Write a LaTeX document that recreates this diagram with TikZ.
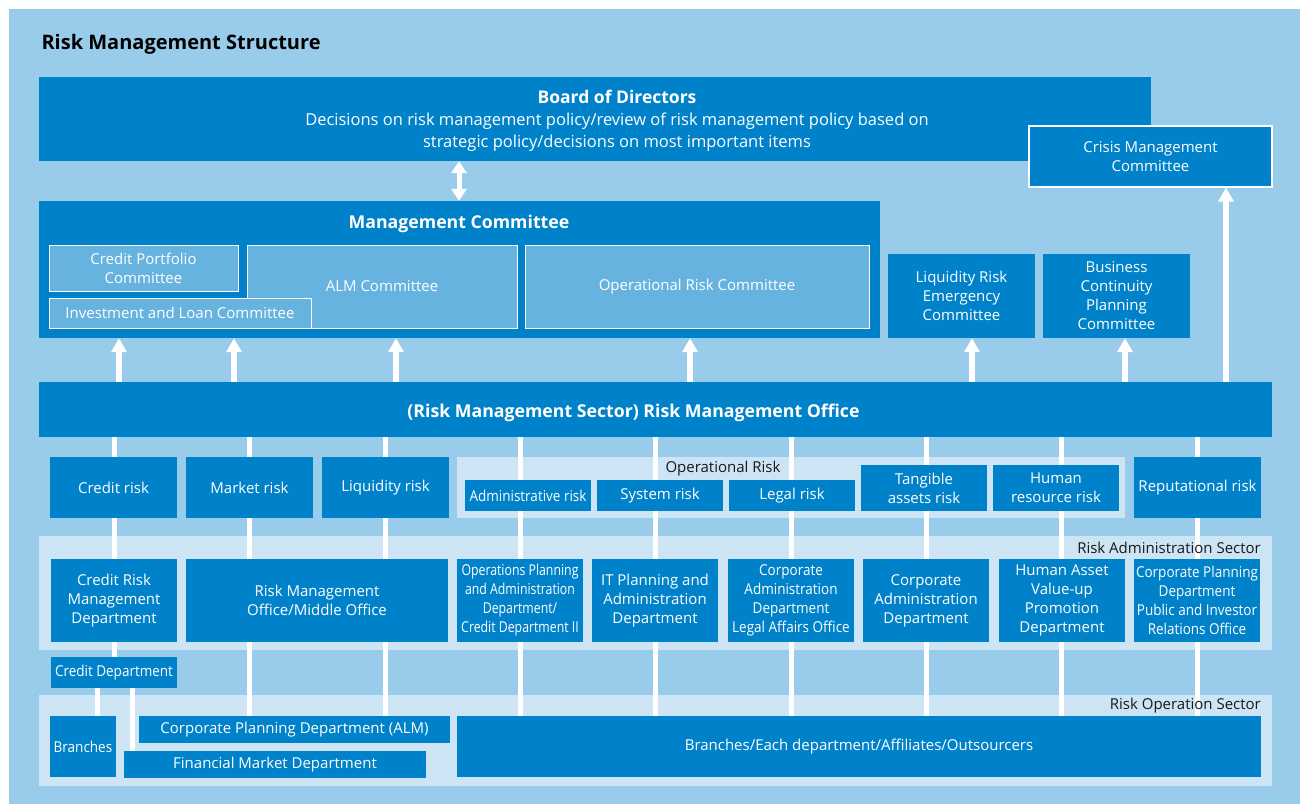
\documentclass[tikz,border=0pt]{standalone}
\usepackage{fontspec}
\setmainfont{Open Sans}
\newfontfamily\narrowfont{Open Sans}[FakeStretch=0.82]
\newfontfamily\semifont{Open Sans}[FakeStretch=0.9]
\usetikzlibrary{arrows.meta}

\definecolor{skyblue}{RGB}{153,204,235}
\definecolor{deepblue}{RGB}{0,130,202}
\definecolor{midblue}{RGB}{102,179,224}
\definecolor{paleblue}{RGB}{204,228,244}

\pgfdeclarelayer{back}
\pgfdeclarelayer{links}
\pgfsetlayers{back,links,main}

\newcommand{\boxtext}{\fontsize{15}{19}\selectfont}
\newcommand{\headtext}{\bfseries\fontsize{17.7}{22}\selectfont}

\tikzset{
  box/.style={fill=deepblue, text=white, inner sep=0pt, align=center, font=\boxtext},
  combox/.style={box, fill=midblue, draw=white, line width=1pt},
  riskbox/.style={box, minimum width=127pt, minimum height=61pt},
  deptbox/.style={box, minimum width=126pt, minimum height=83pt},
  band/.style={fill=paleblue, inner sep=0pt},
  tag/.style={text=black!90, inner sep=0pt, font=\boxtext},
  uparrow/.style={draw=white, line width=6pt, -{Triangle[width=15pt,length=14pt]}},
  link/.style={draw=white, line width=5pt},
}

\begin{document}
\begin{tikzpicture}[x=1pt, y=-1pt]
\useasboundingbox (0,0) rectangle (1300,804);

\node[anchor=west, font=\bfseries\fontsize{20}{24}\selectfont] (title) at (38,44) {Risk Management Structure};

% board and crisis committee
\node[box, minimum width=1112pt, minimum height=84pt,
  label={[xshift=22pt, yshift=-2pt, text=white, align=center, font=\fontsize{16.5}{22}\selectfont]center:{{\bfseries\fontsize{17.5}{22}\selectfont Board of Directors}\\Decisions on risk management policy/review of risk management policy based on\\strategic policy/decisions on most important items}}] (board) at (595,119) {};
\node[box, draw=white, line width=1.2pt, minimum width=243pt, minimum height=61pt] (crisis) at (1150.5,156.5) {Crisis Management\\Committee};

% management committee
\node[box, minimum width=841pt, minimum height=137pt] (mgmt) at (459.5,269.5) {};
\node[text=white, font=\headtext] (mgmttitle) at (459,224) {Management Committee};
\node[combox, minimum width=189pt, minimum height=46pt] (cpc) at (143.5,268) {Credit Portfolio\\Committee};
\node[combox, minimum width=270pt, minimum height=83pt] (alm) at (382,286.5) {ALM Committee};
\node[combox, minimum width=262pt, minimum height=30pt] (ilc) at (180,313) {Investment and Loan Committee};
\node[combox, minimum width=344pt, minimum height=83pt] (orc) at (697,286.5) {Operational Risk Committee};
\node[box, minimum width=147pt, minimum height=84pt] (liq) at (961.5,296) {Liquidity Risk\\Emergency\\Committee};
\node[box, minimum width=147pt, minimum height=84pt] (bcp) at (1116.5,296) {Business\\Continuity\\Planning\\Committee};

% risk management office
\node[box, minimum width=1233pt, minimum height=55pt,
  label={[xshift=-22pt, yshift=-3pt, text=white, font=\headtext]center:{(Risk Management Sector) Risk Management Office}}] (rmo) at (655.5,409.5) {};

% risk categories
\node[riskbox] (creditrisk) at (113.5,487.5) {Credit risk};
\node[riskbox] (marketrisk) at (249.5,487.5) {Market risk};
\node[riskbox] (liqrisk) at (385.5,487.5) {Liquidity risk};
\node[tag] (optag) at (723,469) {Operational Risk};
\node[box, minimum width=126pt, minimum height=31pt, font=\boxtext\semifont] (adminrisk) at (528,495.5) {Administrative risk};
\node[box, minimum width=126pt, minimum height=31pt] (sysrisk) at (660,495.5) {System risk};
\node[box, minimum width=126pt, minimum height=31pt] (legalrisk) at (792,495.5) {Legal risk};
\node[box, minimum width=126pt, minimum height=46pt] (tangrisk) at (924,488) {Tangible\\assets risk};
\node[box, minimum width=126pt, minimum height=46pt] (hrrisk) at (1056,488) {Human\\resource risk};
\node[riskbox] (reprisk) at (1197.5,487.5) {Reputational risk};

% risk administration sector
\node[tag, anchor=east] (admintag) at (1261,548) {Risk Administration Sector};
\node[deptbox] (crmd) at (114,600.5) {Credit Risk\\Management\\Department};
\node[deptbox, minimum width=262pt] (rmmo) at (317,600.5) {Risk Management\\Office/Middle Office};
\node[deptbox, font=\boxtext\narrowfont] (opsplan) at (520,600.5) {Operations Planning\\and Administration\\Department/\\Credit Department II};
\node[deptbox] (itplan) at (655,600.5) {IT Planning and\\Administration\\Department};
\node[deptbox, font=\boxtext\semifont] (legaloff) at (791,600.5) {Corporate\\Administration\\Department\\Legal Affairs Office};
\node[deptbox] (corpadmin) at (926,600.5) {Corporate\\Administration\\Department};
\node[deptbox] (hrdept) at (1062,600.5) {Human Asset\\Value-up\\Promotion\\Department};
\node[deptbox, font=\boxtext\semifont] (corpplan) at (1197,600.5) {Corporate Planning\\Department\\Public and Investor\\Relations Office};
\node[box, minimum width=126pt, minimum height=31pt, font=\boxtext\semifont] (creditdept) at (114,672.5) {Credit Department};

% risk operation sector
\node[tag, anchor=east] (optsectag) at (1261,706) {Risk Operation Sector};
\node[box, minimum width=66pt, minimum height=61pt, font=\boxtext\semifont] (branches) at (83,746.5) {Branches};
\node[box, minimum width=311pt, minimum height=27pt] (cpalm) at (294.5,729.5) {Corporate Planning Department (ALM)};
\node[box, minimum width=302pt, minimum height=27pt] (finmkt) at (275,764.5) {Financial Market Department};
\node[box, minimum width=804pt, minimum height=61pt] (allbranch) at (859,746.5) {Branches/Each department/Affiliates/Outsourcers};

% reporting arrows
\draw[draw=white, line width=5pt, {Triangle[width=15pt,length=12pt]}-{Triangle[width=15pt,length=12pt]}] (board.south -| 459,0) -- (mgmt.north -| 459,0);
\foreach \x/\tgt in {119/mgmt, 234/mgmt, 396/mgmt, 690/mgmt, 972/liq, 1125/bcp, 1226/crisis}
  \draw[uparrow] (rmo.north -| \x,0) -- (\tgt.south -| \x,0);

\begin{pgfonlayer}{links}
\foreach \x/\tgt in {114/creditdept, 249.5/cpalm, 385/cpalm, 520/allbranch, 655.5/allbranch, 791/allbranch, 926/allbranch, 1061.5/allbranch, 1197/allbranch}
  \draw[link] (rmo.south -| \x,0) -- (\tgt.north -| \x,0);
\draw[link] (creditdept.south -| 97,0) -- (branches.north -| 97,0);
\draw[link] (creditdept.south -| 132,0) -- (finmkt.north -| 132,0);
\end{pgfonlayer}

\begin{pgfonlayer}{back}
\fill[skyblue] (9,9) rectangle (1300,804);
\node[band, minimum width=668pt, minimum height=61pt] (opband) at (791,487.5) {};
\node[band, minimum width=1233pt, minimum height=114pt] (adminband) at (655.5,593) {};
\node[band, minimum width=1233pt, minimum height=91pt] (opsecband) at (655.5,740.5) {};
\end{pgfonlayer}
\end{tikzpicture}
\end{document}
